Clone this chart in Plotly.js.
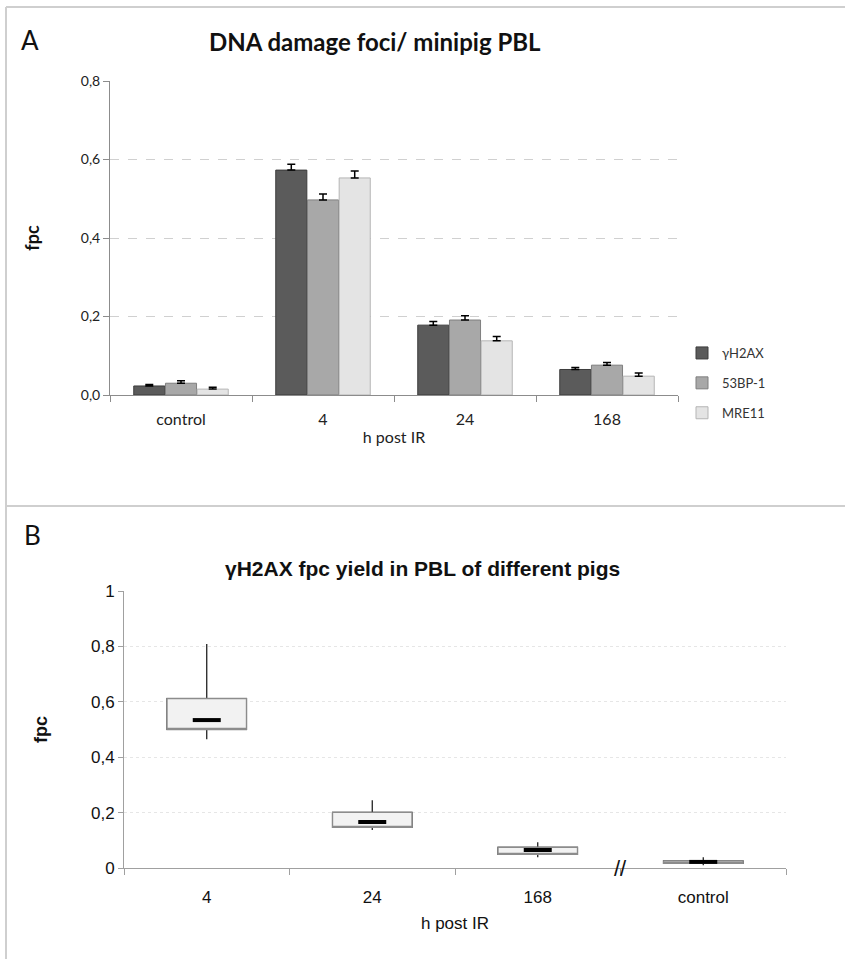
<!DOCTYPE html>
<html>
<head>
<meta charset="utf-8">
<script src="https://cdn.plot.ly/plotly-3.0.1.min.js"></script>
<style>
  html, body { margin: 0; padding: 0; background: #fff; }
  #chart { width: 845px; height: 959px; }
</style>
</head>
<body>
<div id="chart"></div>
<script>
// ---- Panel A data ----
const catsA = ["control", "4", "24", "168"];
const seriesNames = ["γH2AX", "53BP-1", "MRE11"];
const h2axVals = [0.023, 0.573, 0.178, 0.065];
const h2axErr  = [0.004, 0.015, 0.009, 0.005];
const bp53Vals = [0.030, 0.497, 0.191, 0.076];
const bp53Err  = [0.006, 0.015, 0.011, 0.007];
const mre11Vals = [0.015, 0.553, 0.138, 0.048];
const mre11Err  = [0.005, 0.018, 0.011, 0.008];

// ---- Panel B data ----
const catsB = ["4", "24", "168", "control"];
const bMin    = [0.465, 0.137, 0.039, 0.010];
const bQ1     = [0.500, 0.147, 0.049, 0.017];
const bMedian = [0.534, 0.166, 0.065, 0.022];
const bQ3     = [0.612, 0.201, 0.075, 0.026];
const bMax    = [0.809, 0.245, 0.093, 0.039];

const barColors = ["#5b5b5b", "#a8a8a8", "#e4e4e4"];
const barLines  = ["#3c3c3c", "#7f7f7f", "#b5b5b5"];
const valsA = [h2axVals, bp53Vals, mre11Vals];
const errsA = [h2axErr, bp53Err, mre11Err];

const fontA = "Lato, Open Sans, sans-serif";
const fontB = "Liberation Sans, Arial, sans-serif";

const traces = [];
seriesNames.forEach((name, i) => {
  traces.push({
    type: "bar",
    name: name,
    legendgroup: name,
    x: catsA,
    y: valsA[i],
    xaxis: "x",
    yaxis: "y",
    marker: { color: barColors[i], line: { color: barLines[i], width: 1 } },
    error_y: {
      type: "data",
      symmetric: false,
      array: errsA[i],
      arrayminus: errsA[i].map(() => 0),
      color: "#000",
      thickness: 1.5,
      width: 4
    },
    hoverinfo: "skip"
  });
});

// Panel B: full box with black whiskers
traces.push({
  type: "box",
  x: catsB,
  q1: bQ1, median: bMedian, q3: bQ3,
  lowerfence: bMin, upperfence: bMax,
  xaxis: "x2", yaxis: "y2",
  width: 0.48,
  fillcolor: "#f2f2f2",
  line: { color: "#111", width: 1.2 },
  whiskerwidth: 0,
  showlegend: false,
  hoverinfo: "skip"
});
// Overlay box with grey outline (hides whiskers and median line inside box)
traces.push({
  type: "box",
  x: catsB,
  q1: bQ1, median: bQ1, q3: bQ3,
  lowerfence: bQ1, upperfence: bQ3,
  xaxis: "x2", yaxis: "y2",
  width: 0.48,
  fillcolor: "#f2f2f2",
  line: { color: "#8c8c8c", width: 1.3 },
  whiskerwidth: 0,
  showlegend: false,
  hoverinfo: "skip"
});
// Thick median marks
traces.push({
  type: "scatter",
  mode: "markers",
  x: catsB,
  y: bMedian,
  xaxis: "x2", yaxis: "y2",
  marker: { symbol: "line-ew", size: 20, line: { color: "#000", width: 4 } },
  showlegend: false,
  hoverinfo: "skip"
});

const W = 845, H = 959;
const px = v => v / W;
const py = v => 1 - v / H;

const layout = {
  width: W, height: H,
  margin: { l: 0, r: 0, t: 0, b: 0 },
  paper_bgcolor: "#fff",
  plot_bgcolor: "rgba(0,0,0,0)",
  separators: ", ",
  barmode: "group",
  bargap: 0.33,
  bargroupgap: 0.02,
  boxmode: "overlay",
  showlegend: true,
  legend: {
    x: px(682), y: py(338), xanchor: "left", yanchor: "top",
    font: { family: fontA, size: 13, color: "#333" },
    tracegroupgap: 10,
    itemwidth: 30,
    bgcolor: "rgba(0,0,0,0)"
  },
  xaxis: {
    domain: [px(110), px(678)],
    anchor: "y",
    type: "category",
    range: [-0.5, 3.5],
    showline: true, linecolor: "#8c8c8c", linewidth: 1,
    ticks: "outside", tickson: "boundaries", ticklen: 6, tickcolor: "#8c8c8c",
    ticklabelstandoff: 10,
    showgrid: false,
    tickfont: { family: fontA, size: 16, color: "#222" },
    title: { text: "h post IR", font: { family: fontA, size: 16, color: "#222" }, standoff: 4 }
  },
  yaxis: {
    domain: [py(395), py(81)],
    anchor: "x",
    range: [0, 0.8], dtick: 0.2, tickformat: ".1f",
    showline: true, linecolor: "#8c8c8c", linewidth: 1,
    ticks: "outside", ticklen: 6, tickcolor: "#8c8c8c",
    showgrid: true, gridcolor: "#d0d0d0", griddash: "dash", gridwidth: 1,
    zeroline: false,
    tickfont: { family: fontA, size: 14, color: "#222" },
    title: { text: "<b>fpc</b>", font: { family: fontA, size: 18, color: "#111" }, standoff: 36 }
  },
  xaxis2: {
    domain: [px(124), px(786)],
    anchor: "y2",
    type: "category",
    range: [-0.5, 3.5],
    showline: true, linecolor: "#a0a0a0", linewidth: 1,
    ticks: "outside", tickson: "boundaries", ticklen: 6, tickcolor: "#a0a0a0",
    ticklabelstandoff: 14,
    showgrid: false,
    tickfont: { family: fontB, size: 17, color: "#111" },
    title: { text: "h post IR", font: { family: fontB, size: 17, color: "#111" }, standoff: 10 }
  },
  yaxis2: {
    domain: [py(868), py(591)],
    anchor: "x2",
    range: [0, 1], dtick: 0.2,
    showline: true, linecolor: "#a0a0a0", linewidth: 1,
    ticks: "outside", ticklen: 5, tickcolor: "#a0a0a0",
    showgrid: true, gridcolor: "#e6e6e6", griddash: "dot", gridwidth: 1,
    zeroline: false,
    tickfont: { family: fontB, size: 17, color: "#111" },
    title: { text: "<b>fpc</b>", font: { family: fontB, size: 18, color: "#111" }, standoff: 38 }
  },
  annotations: [
    { xref: "paper", yref: "paper", x: px(30), y: py(40), text: "A", showarrow: false,
      font: { family: fontA, size: 26, color: "#111" }, xanchor: "center", yanchor: "middle" },
    { xref: "paper", yref: "paper", x: px(375), y: py(42), text: "<b>DNA damage foci/ minipig PBL</b>", showarrow: false,
      font: { family: fontA, size: 24, color: "#111" }, xanchor: "center", yanchor: "middle" },
    { xref: "paper", yref: "paper", x: px(32), y: py(535), text: "B", showarrow: false,
      font: { family: fontA, size: 26, color: "#111" }, xanchor: "center", yanchor: "middle" },
    { xref: "paper", yref: "paper", x: px(422), y: py(568), text: "<b>γH2AX fpc yield in PBL of different pigs</b>", showarrow: false,
      font: { family: fontB, size: 21, color: "#111" }, xanchor: "center", yanchor: "middle" },
    { xref: "x2", yref: "y2", x: 2.5, y: 0, text: "//", showarrow: false,
      font: { family: fontB, size: 22, color: "#111" }, xanchor: "center", yanchor: "middle" }
  ],
  shapes: [
    { type: "line", xref: "paper", yref: "paper", x0: px(6), x1: 1, y0: py(7), y1: py(7),
      line: { color: "#cfcfcf", width: 2 } },
    { type: "line", xref: "paper", yref: "paper", x0: px(6), x1: px(6), y0: py(7), y1: 0,
      line: { color: "#cfcfcf", width: 2 } },
    { type: "line", xref: "paper", yref: "paper", x0: px(6), x1: 1, y0: py(506), y1: py(506),
      line: { color: "#cfcfcf", width: 2 } }
  ]
};

Plotly.newPlot("chart", traces, layout, { staticPlot: true, displayModeBar: false });
</script>
</body>
</html>
